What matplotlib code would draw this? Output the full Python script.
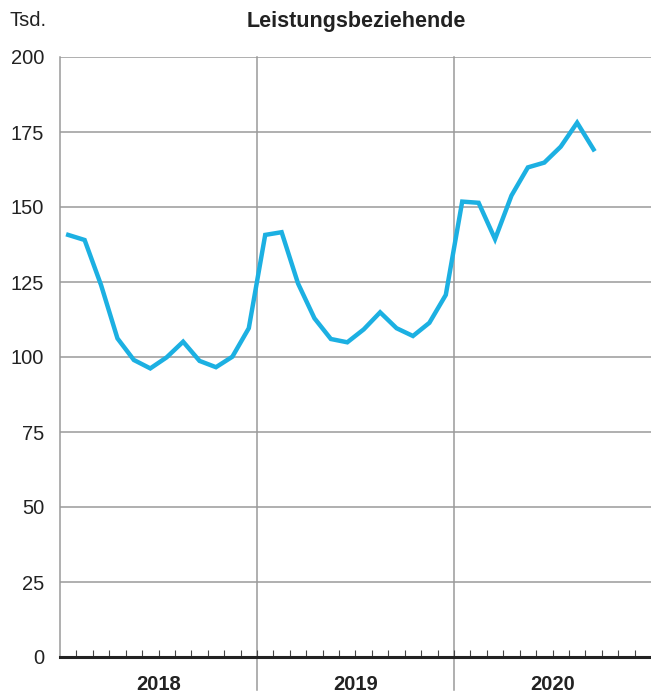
import numpy as np
import matplotlib.pyplot as plt
from matplotlib.transforms import blended_transform_factory

plt.rcParams['font.family'] = ['Liberation Sans', 'DejaVu Sans']

# Monthly values (Tsd.), Jan 2018 - Sep 2020
values_2018 = [140.7, 139.0, 124.0, 106.2, 99.0, 96.2, 99.9, 105.1, 98.7, 96.6, 100.1, 109.6]
values_2019 = [140.7, 141.6, 124.5, 112.9, 106.0, 104.9, 109.2, 114.9, 109.6, 107.0, 111.4, 120.7]
values_2020 = [151.8, 151.4, 139.3, 153.8, 163.2, 164.8, 170.1, 178.1, 169.2]
years = ['2018', '2019', '2020']
yticks = [0, 25, 50, 75, 100, 125, 150, 175, 200]

values = values_2018 + values_2019 + values_2020
months = np.arange(len(values)) + 0.5

fig = plt.figure(figsize=(6.51, 6.96), dpi=100)
ax = fig.add_axes([60 / 651, 1 - 657 / 696, 591 / 651, 600 / 696])

grid_col = '#9a9a9a'
for y in yticks[1:]:
    ax.axhline(y, color=grid_col, lw=1.1, zorder=1)

trans = blended_transform_factory(ax.transData, ax.transAxes)
for i in range(1, len(years)):
    ax.plot([12 * i, 12 * i], [-0.055, 1], color=grid_col, lw=1.1,
            transform=trans, clip_on=False, zorder=1)

ax.plot(months, values, color='#1cb0e2', lw=3.2, solid_joinstyle='miter', zorder=3)

ax.set_xlim(0, 36)
ax.set_ylim(0, 200)

for s in ['top', 'right']:
    ax.spines[s].set_visible(False)
ax.spines['left'].set_color(grid_col)
ax.spines['left'].set_linewidth(1.1)
ax.spines['bottom'].set_color('#222222')
ax.spines['bottom'].set_linewidth(2.2)
ax.spines['bottom'].set_zorder(4)

ax.set_yticks(yticks)
ax.set_yticklabels([str(v) for v in yticks], fontsize=14.5, color='#222222')
ax.tick_params(axis='y', length=0, pad=11.5)

ax.set_xticks(np.arange(1, 36))
ax.set_xticklabels([])
ax.tick_params(axis='x', direction='in', length=5, width=0.8, color='#444444')

for i, yr in enumerate(years):
    ax.text(12 * i + 6, -0.045, yr, transform=trans, ha='center', va='center',
            fontsize=14.5, fontweight='bold', color='#222222')

fig.text(356 / 651, 1 - 22 / 696, 'Leistungsbeziehende', ha='center', va='center',
         fontsize=15.5, fontweight='bold', color='#222222')
fig.text(9 / 651, 1 - 20 / 696, 'Tsd.', ha='left', va='center',
         fontsize=14.5, color='#222222')

fig.savefig('out.png', dpi=100)
